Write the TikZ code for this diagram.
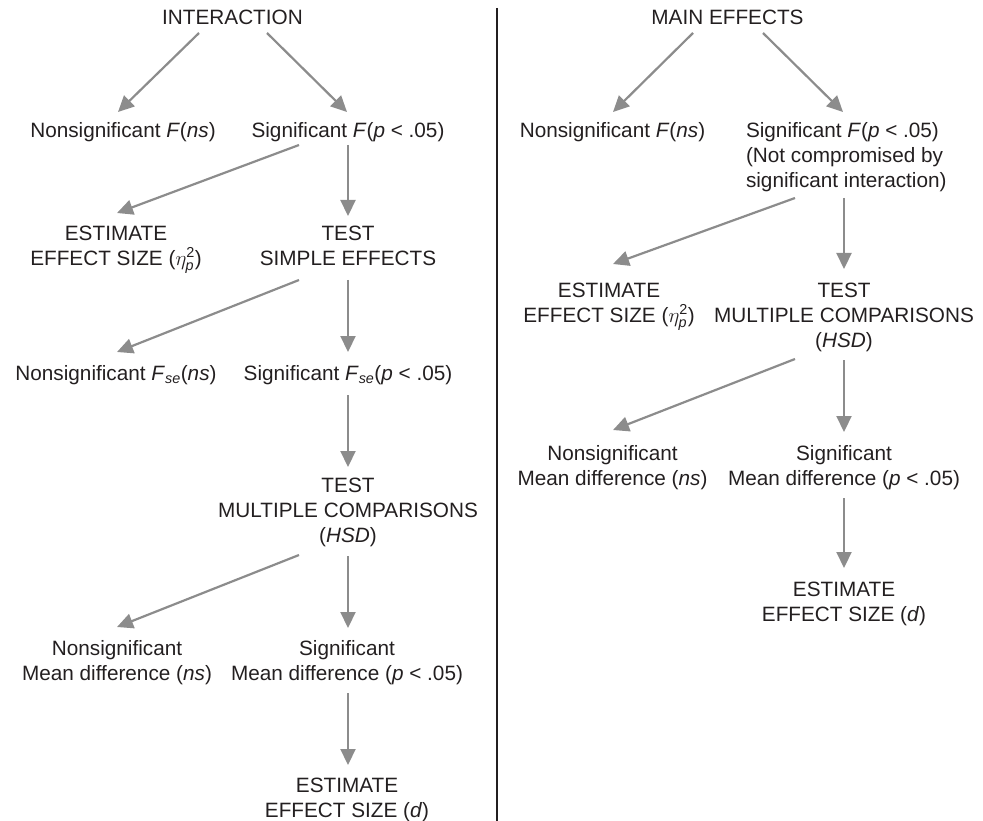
\documentclass[tikz,border=0pt]{standalone}
\usepackage{amsmath}
\usepackage{fontspec}
\setmainfont{Liberation Sans}
\usetikzlibrary{arrows.meta}
\definecolor{arrgray}{RGB}{140,140,140}
\definecolor{ink}{RGB}{35,31,32}
\begin{document}
\begin{tikzpicture}[x=1pt,y=-1pt,
  lbl/.style={inner sep=0pt, outer sep=0pt, anchor=north, align=center, text=ink,
              font=\fontsize{20.74}{25}\selectfont},
  arr/.style={draw=arrgray, line width=2.2pt, -{Triangle[length=16pt,width=15pt]}}]
\useasboundingbox (0,0) rectangle (983,821);

% divider
\draw[ink, line width=2.5pt] (497,8) -- (497,821);

% ---------- left panel: interaction ----------
\node[lbl] (int)  at (232.5,10) {INTERACTION};
\node[lbl] (lns1) at (123,122) {Nonsignificant \textit{F}(\textit{ns})};
\node[lbl] (ls1)  at (348,122) {Significant \textit{F}(\textit{p} < .05)};
\node[lbl] (les1) at (116,226) {ESTIMATE\\EFFECT SIZE ($\eta^{\text{2}}_{\textit{p}}$)};
\node[lbl] (lse)  at (348,226) {TEST\\SIMPLE EFFECTS};
\node[lbl] (lns2) at (116,365) {Nonsignificant \textit{F}\textsubscript{\textit{se}}(\textit{ns})};
\node[lbl] (ls2)  at (348,365) {Significant \textit{F}\textsubscript{\textit{se}}(\textit{p} < .05)};
\node[lbl] (lmc)  at (348,478) {TEST\\MULTIPLE COMPARISONS\\(\textit{HSD})};
\node[lbl] (lns3) at (117,640) {Nonsignificant\\Mean difference (\textit{ns})};
\node[lbl] (ls3)  at (347,640) {Significant\\Mean difference (\textit{p} < .05)};
\node[lbl] (les2) at (347,778) {ESTIMATE\\EFFECT SIZE (\textit{d})};

\draw[arr] ([xshift=-33.5pt,yshift=-23pt]int.north) -- ([xshift=-5pt,yshift=10pt]lns1.north);
\draw[arr] ([xshift=34.5pt,yshift=-23pt]int.north) -- ([xshift=-1pt,yshift=10pt]ls1.north);
\draw[arr] ([xshift=-49pt,yshift=-23pt]ls1.north) -- ([xshift=1pt,yshift=13pt]les1.north);
\draw[arr] ([yshift=-23pt]ls1.north) -- ([yshift=10pt]lse.north);
\draw[arr] ([xshift=-49pt,yshift=-54pt]lse.north) -- ([xshift=1pt,yshift=13pt]lns2.north);
\draw[arr] ([yshift=-54pt]lse.north) -- ([yshift=13pt]ls2.north);
\draw[arr] ([yshift=-30pt]ls2.north) -- ([yshift=11pt]lmc.north);
\draw[arr] ([xshift=-49pt,yshift=-77pt]lmc.north) -- ([yshift=13pt]lns3.north);
\draw[arr] ([yshift=-78pt]lmc.north) -- ([xshift=1pt,yshift=12pt]ls3.north);
\draw[arr] ([xshift=1pt,yshift=-53pt]ls3.north) -- ([xshift=1pt,yshift=13pt]les2.north);

% ---------- right panel: main effects ----------
\node[lbl] (me)   at (727.5,10) {MAIN EFFECTS};
\node[lbl] (rns1) at (612.5,122) {Nonsignificant \textit{F}(\textit{ns})};
\node[lbl, anchor=north west, align=left] (rs1) at (746,122)
  {Significant \textit{F}(\textit{p} < .05)\\(Not compromised by\\significant interaction)};
\node[lbl] (res1) at (609,283) {ESTIMATE\\EFFECT SIZE ($\eta^{\text{2}}_{\textit{p}}$)};
\node[lbl] (rmc)  at (844,283) {TEST\\MULTIPLE COMPARISONS\\(\textit{HSD})};
\node[lbl] (rns2) at (612.5,445) {Nonsignificant\\Mean difference (\textit{ns})};
\node[lbl] (rs2)  at (844,445) {Significant\\Mean difference (\textit{p} < .05)};
\node[lbl] (res2) at (844,582) {ESTIMATE\\EFFECT SIZE (\textit{d})};

\draw[arr] ([xshift=-34.5pt,yshift=-23pt]me.north) -- ([xshift=0.5pt,yshift=10pt]rns1.north);
\draw[arr] ([xshift=35.5pt,yshift=-23pt]me.north) -- ([xshift=97pt,yshift=10pt]rs1.north west);
\draw[arr] ([xshift=49pt,yshift=-76pt]rs1.north west) -- ([xshift=4pt,yshift=19pt]res1.north);
\draw[arr] ([xshift=98pt,yshift=-76pt]rs1.north west) -- ([yshift=14pt]rmc.north);
\draw[arr] ([xshift=-49pt,yshift=-76pt]rmc.north) -- ([xshift=0.5pt,yshift=15pt]rns2.north);
\draw[arr] ([yshift=-77pt]rmc.north) -- ([yshift=13pt]rs2.north);
\draw[arr] ([yshift=-53pt]rs2.north) -- ([yshift=14pt]res2.north);
\end{tikzpicture}
\end{document}
